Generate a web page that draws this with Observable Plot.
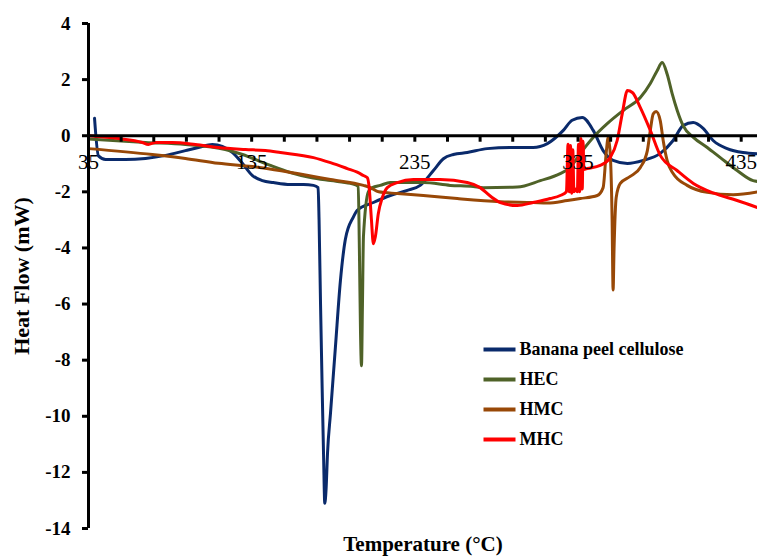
<!DOCTYPE html>
<html>
<head>
<meta charset="utf-8">
<script src="https://cdn.jsdelivr.net/npm/d3@7"></script>
<script src="https://cdn.jsdelivr.net/npm/@observablehq/plot@0.6"></script>
<style>
  html, body { margin: 0; padding: 0; background: #fff; }
  #chart svg { display: block; }
</style>
</head>
<body>
<div id="chart"></div>
<script>
// ---- Data (Temperature °C, Heat Flow mW) ----
const seriesNames = ["Banana peel cellulose", "HEC", "HMC", "MHC"];
const seriesColors = ["#0a2a6b", "#4f6228", "#984807", "#ff0000"];

const bananaPeel = [
  [38.7,0.62],[41.1,-0.72],[45.5,-0.85],[57.7,-0.85],[69.9,-0.81],[82.3,-0.7],[94.4,-0.53],
  [102.4,-0.42],[110.9,-0.31],[117.0,-0.38],[123.3,-0.6],[129.4,-0.99],[135.5,-1.42],[141.6,-1.6],
  [148.3,-1.67],[158.7,-1.74],[166.8,-1.74],[172.9,-1.77],[175.7,-1.85],[176.3,-3],[177.2,-6],
  [178.2,-9],[179.1,-11.5],[179.8,-13.1],[180.6,-12.6],[181.5,-11.3],[183.3,-9.9],[186.3,-7.55],
  [189.4,-5.16],[192.4,-3.7],[197.3,-2.9],[199.7,-2.66],[209.6,-2.38],[220.0,-2.13],[230.4,-1.95],
  [238.3,-1.77],[246.4,-1.24],[252.5,-0.82],[258.6,-0.67],[267.1,-0.6],[279.3,-0.46],[293.5,-0.42],
  [307.5,-0.42],[316.2,-0.28],[326.0,0.19],[331.4,0.55],[337.6,0.65],[344.3,0.19],[350.4,-0.53],
  [356.5,-0.88],[365.3,-0.99],[375.0,-0.88],[385.4,-0.63],[393.3,-0.17],[399.4,0.36],[405.6,0.47],
  [411.7,0.26],[417.8,-0.17],[426.4,-0.46],[436.1,-0.6],[445,-0.64]
];

const hec = [
  [35,-0.12],[69.9,-0.24],[94.4,-0.31],[118.8,-0.49],[129.4,-0.67],[134.3,-0.78],[146.5,-1.06],
  [158.7,-1.31],[171.1,-1.49],[183.3,-1.6],[195.5,-1.7],[200.3,-1.8],[201.0,-4],[201.7,-7],
  [202.3,-8.2],[202.9,-6],[203.5,-3.6],[206.5,-2.0],[209.0,-1.85],[213.8,-1.77],[220.0,-1.67],
  [240.2,-1.67],[256.7,-1.77],[270.8,-1.81],[276.9,-1.85],[297.8,-1.83],[311.9,-1.6],[324.1,-1.35],
  [330.3,-1.13],[336.4,-0.63],[344.3,-0.06],[352.9,0.43],[362.7,0.9],[373.2,1.36],[379.3,1.86],
  [383.5,2.32],[386.6,2.61],[389.6,2.2],[392.7,1.5],[395.8,0.9],[399.4,0.36],[405.7,-0.06],
  [414.2,-0.42],[422.2,-0.78],[432.5,-1.24],[442.3,-1.6],[445,-1.63]
];

const hmc = [
  [35,-0.46],[74.1,-0.67],[94.4,-0.81],[114.6,-0.98],[135.5,-1.1],[142.2,-1.15],[163.0,-1.35],
  [183.3,-1.56],[203.5,-1.77],[207.8,-1.85],[212.8,-2.0],[224.3,-2.06],[240.2,-2.13],[261.0,-2.24],
  [287.4,-2.35],[307.5,-2.38],[316.2,-2.4],[328.5,-2.31],[336.4,-2.24],[346.8,-2.13],[350.4,-1.85],
  [352.3,-0.6],[353.5,-0.06],[354.7,-0.6],[355.9,-3],[356.5,-5.5],[357.1,-4],[358.4,-2.2],
  [360.9,-1.7],[367.0,-1.45],[373.2,-1.13],[377.5,-0.53],[379.3,0.19],[381.1,0.78],[382.9,0.86],
  [385.4,0.54],[387.2,-0.17],[389.6,-0.88],[393.3,-1.35],[401.9,-1.77],[414.2,-2.02],[430.1,-2.1],
  [445,-2.0]
];

const mhc = [
  [35,0],[53.4,-0.1],[68.0,-0.24],[71.7,-0.31],[76.0,-0.24],[86.4,-0.24],[100.5,-0.31],
  [114.6,-0.42],[131.2,-0.49],[143.4,-0.53],[152.6,-0.6],[172.9,-0.78],[183.3,-0.96],
  [193.6,-1.17],[199.7,-1.3],[203.5,-1.42],[205.9,-1.5],[207.1,-1.9],[208.4,-3.0],[209.6,-3.85],
  [210.8,-3.6],[212.6,-2.78],[215.1,-2.2],[218.1,-1.85],[224.3,-1.67],[234.1,-1.56],[250.6,-1.56],
  [267.1,-1.67],[275.0,-1.85],[281.2,-2.15],[287.4,-2.38],[297.8,-2.49],[307.5,-2.38],[318.0,-2.24],
  [324.1,-2.13],[327.9,-2.0],[328.9,-0.3],[329.6,-2.0],[330.4,-0.35],[331.1,-2.05],[331.8,-0.5],
  [332.5,-2.0],[333.5,-1.9],[334.6,-2.0],[335.3,-0.3],[336.0,-2.0],[336.8,-0.1],[337.6,-1.9],
  [338.1,-0.2],[338.6,-1.2],[340.7,-1.17],[348.6,-1.06],[354.7,-0.78],[359.0,-0.17],
  [362.1,0.78],[365.3,1.61],[368.3,1.54],[373.2,1.0],[379.3,0.19],[385.4,-0.7],[395.7,-1.24],
  [405.7,-1.7],[417.9,-2.04],[432.5,-2.31],[445,-2.56]
];

const yTicks = [-14, -12, -10, -8, -6, -4, -2, 0, 2, 4];
const xTicks = [35, 55, 75, 95, 115, 135, 155, 175, 195, 215, 235, 255, 275, 295, 315, 335, 355, 375, 395, 415, 435];
const xTickLabels = [35, 135, 235, 335, 435];
const xDomain = [35, 445];
const yDomain = [-14, 4];
const xTitle = "Temperature (°C)";
const yTitle = "Heat Flow (mW)";

// ---- Build table ----
const seriesData = [bananaPeel, hec, hmc, mhc];
const rows = seriesNames.flatMap((name, i) => seriesData[i].map(([t, q]) => ({series: name, t, q})));

const font = "'Liberation Serif', 'Times New Roman', serif";
const tickDown = {draw(ctx) { ctx.moveTo(0, 0); ctx.lineTo(0, 6); }};
const legendLine = {draw(ctx) { ctx.moveTo(-16, 0); ctx.lineTo(16, 0); }};

const W = 757, H = 559;
const mL = 88, mT = 23;
const legendTop = 349, legendStep = 30;

const legendMarks = seriesNames.flatMap((name, i) => [
  Plot.dot([name], {frameAnchor: "top-left", dx: 499 - mL, dy: legendTop + i * legendStep - mT,
    symbol: legendLine, stroke: seriesColors[i], strokeWidth: 4, fill: "none", r: 5}),
  Plot.text([name], {frameAnchor: "top-left", dx: 519 - mL, dy: legendTop + i * legendStep - mT,
    text: d => d, textAnchor: "start", lineAnchor: "middle", fontSize: 18, fontWeight: "bold",
    fontFamily: font, fill: "#000"})
]);

const chart = Plot.plot({
  width: W,
  height: H,
  marginLeft: mL,
  marginRight: 0,
  marginTop: mT,
  marginBottom: 31,
  style: {fontFamily: font, background: "#fff", color: "#000"},
  x: {domain: xDomain, axis: null},
  y: {domain: yDomain, axis: null},
  color: {domain: seriesNames, range: seriesColors},
  marks: [
    Plot.line(rows, {x: "t", y: "q", z: "series", stroke: "series", strokeWidth: 3,
      curve: "monotone-x", strokeLinejoin: "round", strokeLinecap: "round"}),
    // x axis at y = 0
    Plot.ruleY([0], {stroke: "#000", strokeWidth: 3}),
    Plot.dot(xTicks, {x: d => d, y: () => 0, symbol: tickDown, stroke: "#000", strokeWidth: 3, fill: "none", r: 3}),
    Plot.text(xTickLabels, {x: d => d, y: () => 0, dy: 27, text: d => String(d), lineAnchor: "middle",
      fontSize: 21, fontFamily: font, fill: "#000"}),
    // y axis
    Plot.ruleX([35], {stroke: "#000", strokeWidth: 3}),
    Plot.axisY(yTicks, {anchor: "left", tickSize: 6, tickPadding: 12, strokeWidth: 3,
      fontSize: 19, fontWeight: "bold", fontFamily: font, tickFormat: d => String(d), label: null}),
    // titles
    Plot.text([yTitle], {frameAnchor: "left", dx: -67, rotate: -90, text: d => d, textAnchor: "middle",
      lineAnchor: "middle", fontSize: 22, fontWeight: "bold", fontFamily: font, fill: "#000"}),
    Plot.text([xTitle], {frameAnchor: "bottom", dy: 16, text: d => d, textAnchor: "middle",
      lineAnchor: "middle", fontSize: 21, fontWeight: "bold", fontFamily: font, fill: "#000"}),
    ...legendMarks
  ]
});

document.getElementById("chart").appendChild(chart);
</script>
</body>
</html>
